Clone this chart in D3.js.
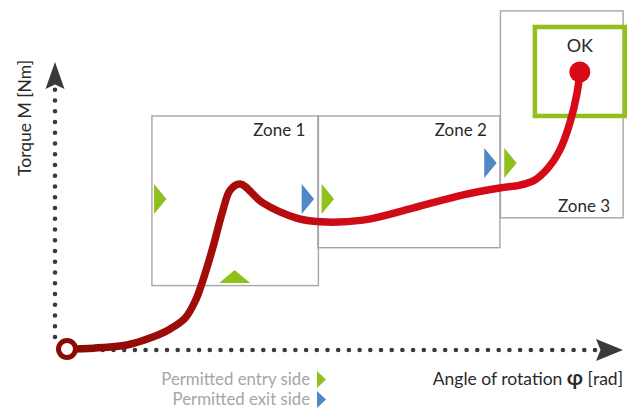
<!DOCTYPE html>
<html>
<head>
<meta charset="utf-8">
<script src="https://cdn.jsdelivr.net/npm/d3@7"></script>
<style>
  body { margin: 0; background: #fff; }
  text { font-family: Lato, "Open Sans", sans-serif; }
</style>
</head>
<body>
<svg id="chart" width="632" height="409"></svg>
<script>
// torque curve (angle, torque) in relative units 0..100
const angle  = [0, 4.7, 10.8, 14.95, 18.6, 21.3, 23.2, 24.5, 26.3, 28.1, 29.4, 31.2, 35.3, 41.4, 45.6, 53.3, 62.3, 71.4, 78.0, 81.6, 84.3, 86.7, 88.8, 90.6, 91.9, 92.4];
const torque = [0, 0.3, 1.4, 3.8, 7.0, 10.8, 17.1, 24.0, 35.5, 48.4, 55.4, 57.5, 50.9, 45.6, 44.3, 44.9, 49.1, 53.7, 56.1, 57.1, 58.9, 63.1, 69.3, 78.7, 89.2, 96.5];

// tolerance zones [x0, x1, y0, y1]
const zoneNames = ["Zone 1", "Zone 2", "Zone 3"];
const zoneX0 = [15.3, 45.2, 78.1];
const zoneX1 = [45.3, 78.0, 100.2];
const zoneY0 = [22.1, 35.3, 45.7];
const zoneY1 = [81.2, 81.2, 117.8];

// OK window
const okBox = [84.3, 100.5, 81.2, 112.2];

// entry / exit side markers
const markerX    = [16.8, 43.4, 47.0, 30.2, 76.3, 79.9];
const markerY    = [52.3, 52.3, 52.3, 25.3, 64.8, 64.8];
const markerKind = ["entry", "exit", "entry", "entry", "exit", "entry"];
const markerDir  = ["right", "right", "right", "up", "right", "right"];

const legendLabels = ["Permitted entry side", "Permitted exit side"];

const green = "#8fc01c", blue = "#4f87c7", gray = "#a6a6a6", dark = "#3a3a3a", ink = "#2a2a2a";

const svg = d3.select("#chart");
const x = d3.scaleLinear().domain([0, 100]).range([67, 622]);
const y = d3.scaleLinear().domain([0, 100]).range([349, 62]);

// axes (dotted with arrow heads)
const axisX = 55, axisY = 350;
svg.append("line")
  .attr("x1", axisX).attr("y1", 337).attr("x2", axisX).attr("y2", 88)
  .attr("stroke", dark).attr("stroke-width", 4.6)
  .attr("stroke-linecap", "round").attr("stroke-dasharray", "0 10.75");
svg.append("line")
  .attr("x1", 595).attr("y1", axisY).attr("x2", 72).attr("y2", axisY)
  .attr("stroke", dark).attr("stroke-width", 4.6)
  .attr("stroke-linecap", "round").attr("stroke-dasharray", "0 10.7");
svg.append("path")
  .attr("d", `M${axisX},62 L${axisX + 9.5},89 L${axisX},84.5 L${axisX - 9.5},89 Z`)
  .attr("fill", dark);
svg.append("path")
  .attr("d", `M623,${axisY} L596,${axisY - 11} L600.5,${axisY} L596,${axisY + 11} Z`)
  .attr("fill", dark);

// zones
const zones = zoneNames.map((n, i) => ({ name: n, x0: zoneX0[i], x1: zoneX1[i], y0: zoneY0[i], y1: zoneY1[i] }));
svg.selectAll("rect.zone").data(zones).join("rect")
  .attr("class", "zone")
  .attr("x", d => x(d.x0)).attr("y", d => y(d.y1))
  .attr("width", d => x(d.x1) - x(d.x0)).attr("height", d => y(d.y0) - y(d.y1))
  .attr("fill", "none").attr("stroke", gray).attr("stroke-width", 1.4);

svg.selectAll("text.zone").data(zones).join("text")
  .attr("class", "zone")
  .attr("x", d => x(d.x1) - 13)
  .attr("y", (d, i) => i < 2 ? y(d.y1) + 20 : y(d.y0) - 6)
  .attr("text-anchor", "end").attr("font-size", 17).attr("fill", ink)
  .text(d => d.name);

// OK window
svg.append("rect")
  .attr("x", x(okBox[0])).attr("y", y(okBox[3]))
  .attr("width", x(okBox[1]) - x(okBox[0])).attr("height", y(okBox[2]) - y(okBox[3]))
  .attr("fill", "none").attr("stroke", green).attr("stroke-width", 4.5);
svg.append("text")
  .attr("x", (x(okBox[0]) + x(okBox[1])) / 2).attr("y", 52)
  .attr("text-anchor", "middle").attr("font-size", 18).attr("fill", ink)
  .text("OK");

// markers
function tri(cx, cy, dir) {
  if (dir === "up") return `M${cx - 15.5},${cy + 6.5} L${cx + 15.5},${cy + 6.5} L${cx},${cy - 6.5} Z`;
  return `M${cx - 6.2},${cy - 15} L${cx + 6.2},${cy} L${cx - 6.2},${cy + 15} Z`;
}
const markers = markerX.map((v, i) => ({ x: v, y: markerY[i], kind: markerKind[i], dir: markerDir[i] }));
svg.selectAll("path.marker").data(markers).join("path")
  .attr("class", "marker")
  .attr("d", d => tri(x(d.x), y(d.y), d.dir))
  .attr("fill", d => d.kind === "entry" ? green : blue);

// curve
const defs = svg.append("defs");
const grad = defs.append("linearGradient").attr("id", "curveGrad")
  .attr("gradientUnits", "userSpaceOnUse")
  .attr("x1", x(0)).attr("x2", x(92)).attr("y1", 0).attr("y2", 0);
[[0, "#8a0a04"], [0.35, "#a80c0a"], [0.55, "#cf0c16"], [1, "#d80a17"]].forEach(s =>
  grad.append("stop").attr("offset", s[0]).attr("stop-color", s[1]));

const pts = angle.map((a, i) => [a, torque[i]]);
const line = d3.line().x(d => x(d[0])).y(d => y(d[1])).curve(d3.curveCatmullRom.alpha(0.5));
svg.append("path").attr("d", line(pts))
  .attr("fill", "none").attr("stroke", "url(#curveGrad)")
  .attr("stroke-width", 7.5).attr("stroke-linecap", "round");

svg.append("circle")
  .attr("cx", x(angle[0])).attr("cy", y(torque[0])).attr("r", 8.5)
  .attr("fill", "#fff").attr("stroke", "#8a0a04").attr("stroke-width", 5);
const last = pts.length - 1;
svg.append("circle")
  .attr("cx", x(angle[last])).attr("cy", y(torque[last])).attr("r", 10.5)
  .attr("fill", "#d80a17");

// axis titles
svg.append("text")
  .attr("transform", "translate(31,118) rotate(-90)")
  .attr("text-anchor", "middle").attr("font-size", 17.5).attr("fill", ink)
  .text("Torque M [Nm]");
const xt = svg.append("text")
  .attr("x", 623).attr("y", 385).attr("text-anchor", "end")
  .attr("font-size", 17.5).attr("fill", ink);
xt.append("tspan").text("Angle of rotation  ");
xt.append("tspan").attr("font-size", 21).attr("font-weight", "bold").text("φ");
xt.append("tspan").text(" [rad]");

// legend
const legendKinds = ["entry", "exit"];
const lg = svg.selectAll("g.legend").data(legendLabels).join("g")
  .attr("class", "legend")
  .attr("transform", (d, i) => `translate(310,${385 + i * 20})`);
lg.append("text").attr("text-anchor", "end").attr("font-size", 16.8).attr("fill", gray).text(d => d);
lg.append("path")
  .attr("d", "M7,-14 L16,-5.5 L7,3 Z")
  .attr("fill", (d, i) => legendKinds[i] === "entry" ? green : blue);
</script>
</body>
</html>
